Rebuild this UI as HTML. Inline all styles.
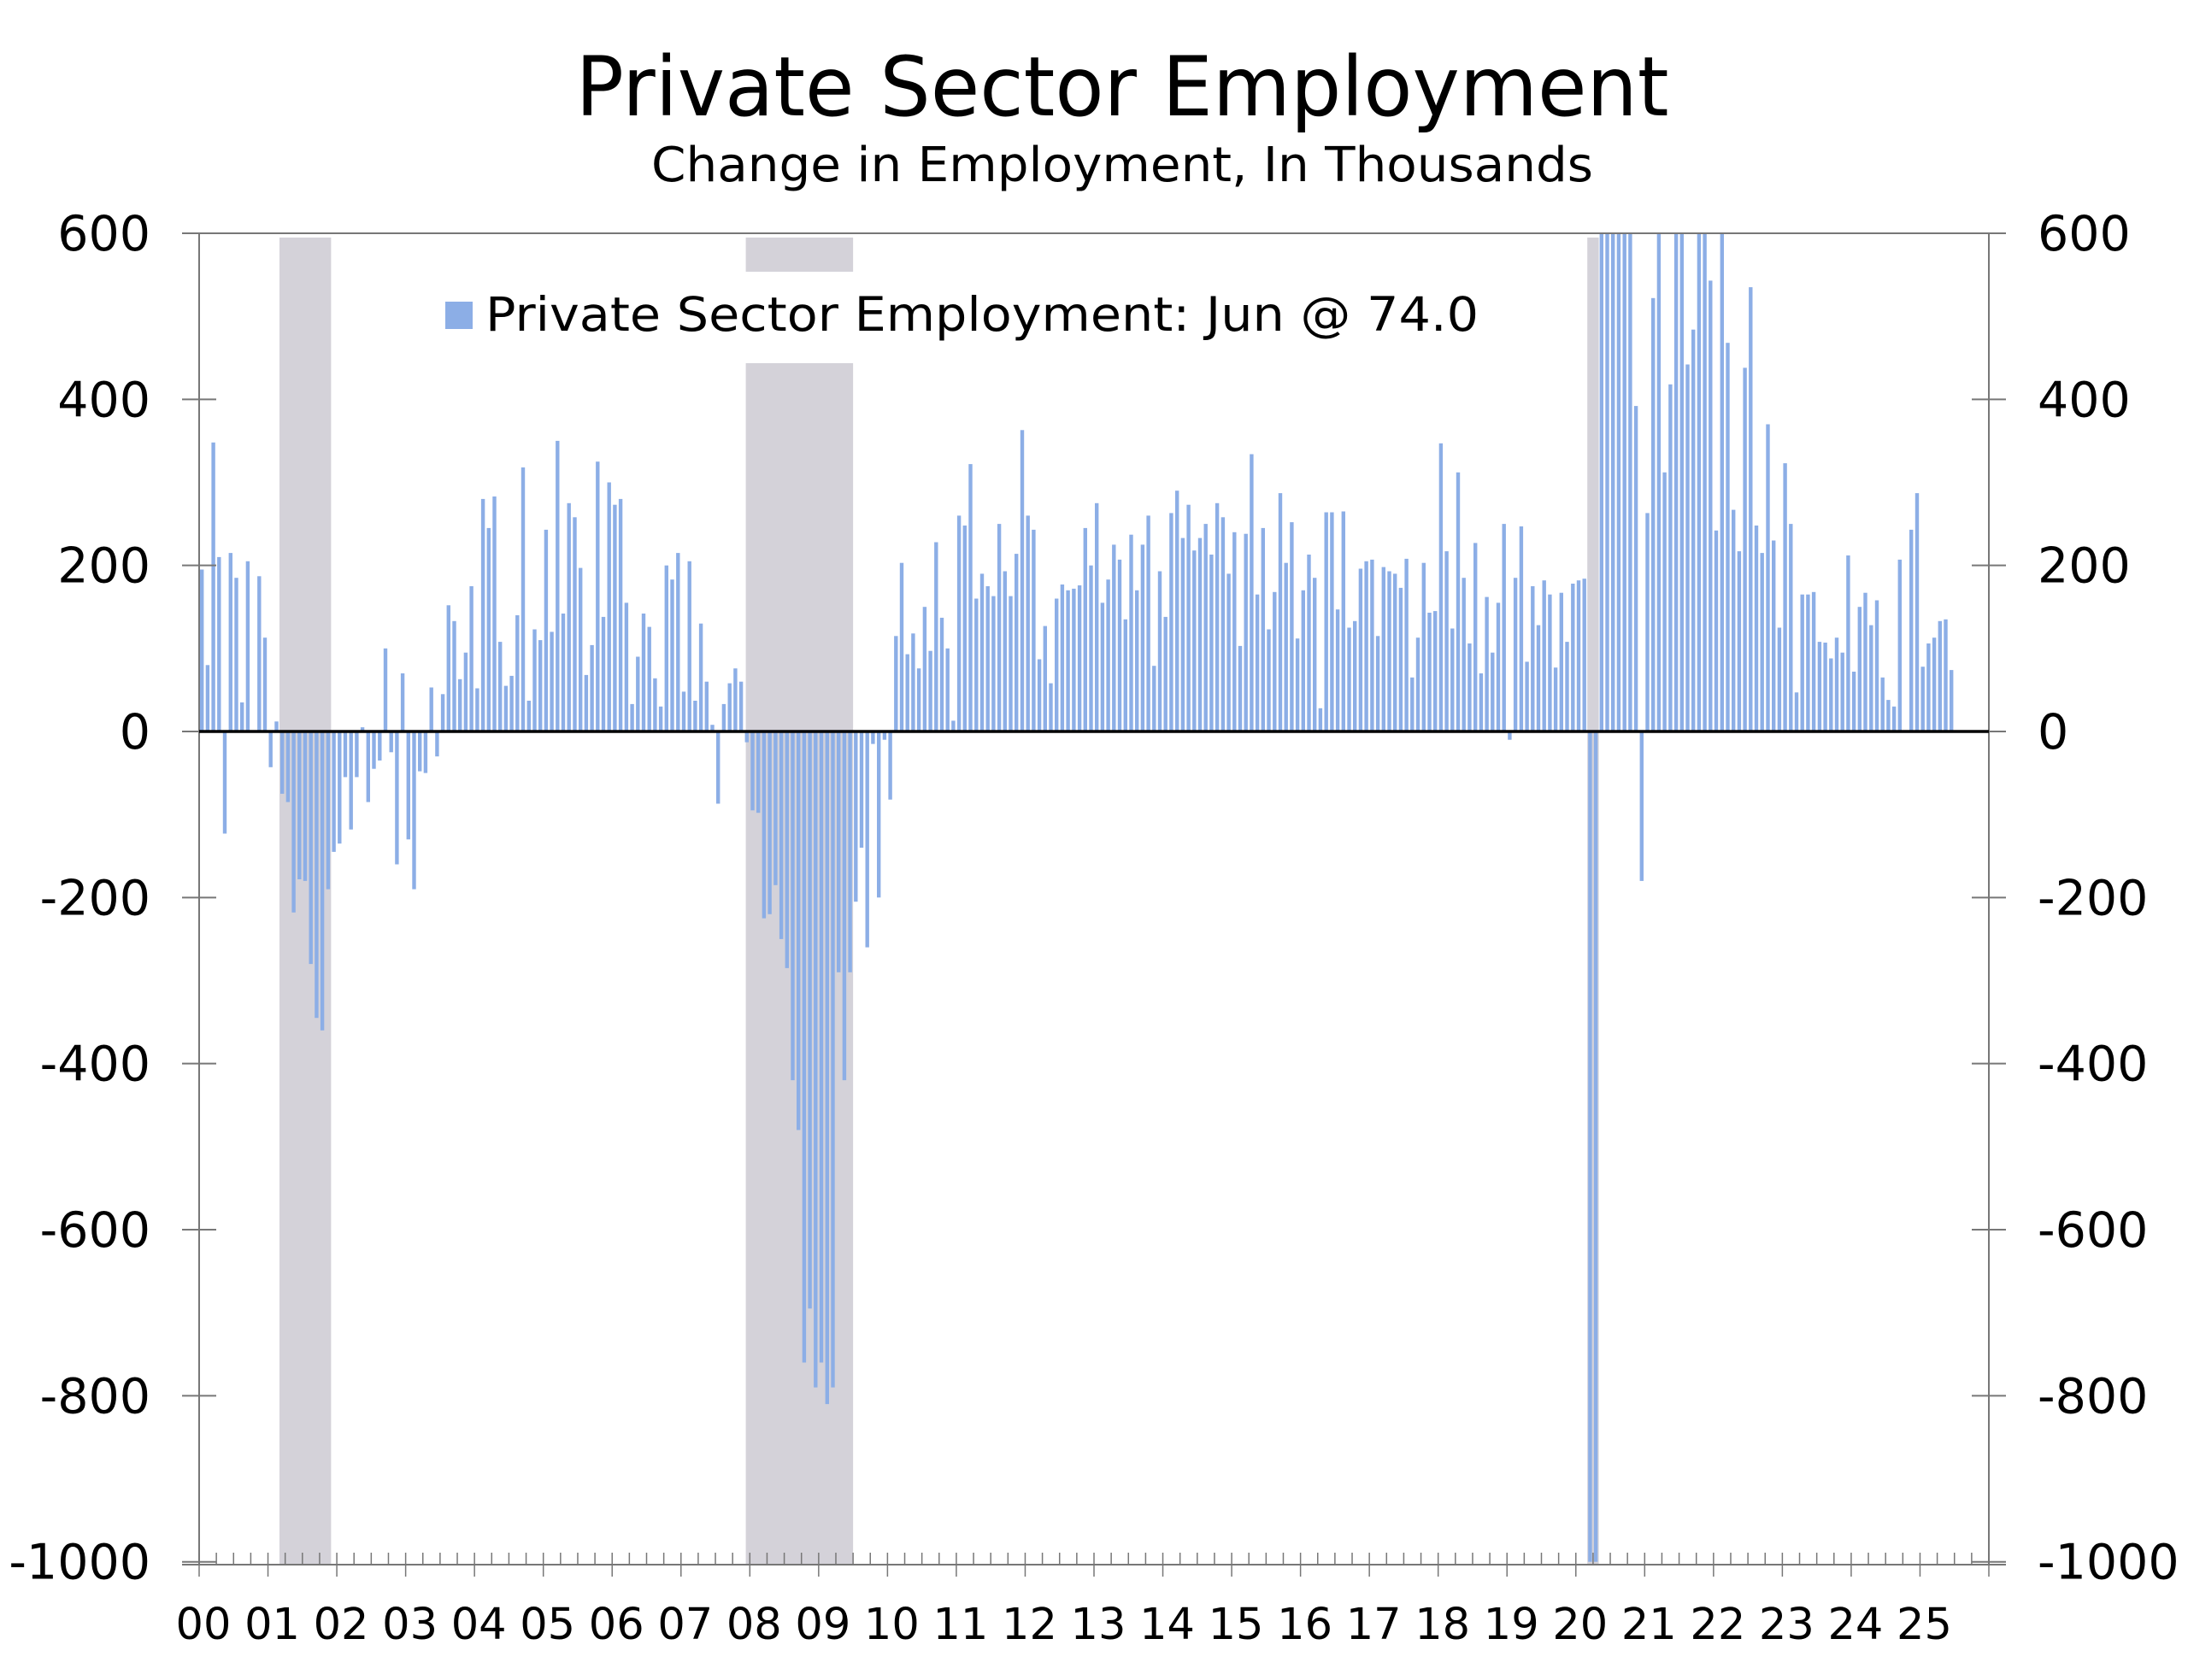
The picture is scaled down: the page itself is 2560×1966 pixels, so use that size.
<!DOCTYPE html>
<html><head><meta charset="utf-8"><style>html,body{margin:0;padding:0;background:#fff}svg{display:block}</style></head>
<body>
<svg id="c" width="2560" height="1966" xmlns="http://www.w3.org/2000/svg" font-family="'DejaVu Sans','Liberation Sans',sans-serif">
<rect width="2560" height="1966" fill="#fff"/>
<text x="1313" y="135" font-size="96" text-anchor="middle" textLength="1279" lengthAdjust="spacingAndGlyphs">Private Sector Employment</text>
<text x="1313" y="212" font-size="56" text-anchor="middle" textLength="1102" lengthAdjust="spacingAndGlyphs">Change in Employment, In Thousands</text>
<g id="g"></g>
</svg>
<script>
const data=[195,80,348,210,-123,215,185,35,205,0,187,113,
-43,12,-75,-85,-218,-178,-180,-280,-345,-360,-190,-145,
-135,-55,-118,-55,5,-85,-45,-35,100,-25,-160,70,
-130,-190,-48,-50,53,-30,45,152,133,63,95,175,
52,280,245,283,108,55,67,140,318,37,123,110,
243,120,350,142,275,258,197,68,104,325,138,300,
273,280,155,33,90,142,126,64,30,200,183,215,
48,205,37,130,60,8,-87,33,58,76,60,-13,
-95,-98,-225,-220,-185,-250,-285,-420,-480,-760,-695,-790,
-760,-810,-790,-290,-420,-290,-205,-140,-260,-15,-200,-10,
-82,115,203,93,118,76,150,97,228,137,100,13,
260,248,322,160,190,175,163,250,193,163,214,363,
260,243,87,127,58,160,177,170,172,176,245,200,
275,155,183,225,207,135,237,170,225,260,79,193,
138,263,290,233,273,218,233,250,213,275,258,190,
240,103,238,334,165,245,123,168,287,203,252,112,
170,213,185,28,264,264,147,265,125,133,196,205,
207,115,198,193,190,173,208,65,113,203,143,145,
347,217,124,312,185,106,227,70,162,95,155,250,
-10,185,247,84,175,128,182,165,77,167,108,178,
182,184,-1400,-19000,3000,4500,1200,1000,800,700,392,-180,
263,522,700,312,418,700,700,442,484,700,700,543,
242,700,468,267,217,438,535,248,215,370,230,125,
323,250,47,165,165,168,108,107,88,113,95,212,
72,150,167,128,158,65,38,30,207,0,243,287,
78,106,113,133,135,74];
const L=233,R=2327,Y0=856,S=0.9717,BOT=1831,TOP=273;
const yr=(R-L)/26,mo=yr/12;
const y=v=>Y0-v*S;
let s='';
const xm=m=>L+m*mo;
s+=`<rect x="${xm(14)}" y="${y(600)+5}" width="${xm(23)-xm(14)}" height="${BOT-y(600)-5}" fill="#d4d2d9"/>`;
s+=`<rect x="${xm(95.3)}" y="${y(600)+5}" width="${xm(114)-xm(95.3)}" height="40" fill="#d4d2d9"/>`;
s+=`<rect x="${xm(95.3)}" y="425" width="${xm(114)-xm(95.3)}" height="${BOT-425}" fill="#d4d2d9"/>`;
s+=`<rect x="${xm(242)}" y="${y(600)+5}" width="${xm(244)-xm(242)}" height="${BOT-y(600)-5}" fill="#d4d2d9"/>`;
data.forEach((v,i)=>{let c=Math.max(-1000,Math.min(600,v));let x=xm(i)+1;let a=y(Math.max(c,0)),b=y(Math.min(c,0));
s+=`<rect x="${x.toFixed(1)}" y="${a.toFixed(1)}" width="4.4" height="${(b-a).toFixed(1)}" fill="#8caee6"/>`;});
s+=`<line x1="${L}" y1="${TOP}" x2="${L}" y2="${BOT}" stroke="#777" stroke-width="2"/>`;
s+=`<line x1="${R}" y1="${TOP}" x2="${R}" y2="${BOT}" stroke="#777" stroke-width="2"/>`;
s+=`<line x1="213" y1="${TOP}" x2="${R+20}" y2="${TOP}" stroke="#777" stroke-width="2"/>`;
s+=`<line x1="213" y1="${BOT}" x2="${R+20}" y2="${BOT}" stroke="#777" stroke-width="2"/>`;
for(let v=-1000;v<=600;v+=200){let yy=y(v);
s+=`<line x1="213" y1="${yy}" x2="253" y2="${yy}" stroke="#777" stroke-width="2"/><line x1="${R-20}" y1="${yy}" x2="${R+20}" y2="${yy}" stroke="#777" stroke-width="2"/>`;
s+=`<text x="176" y="${yy+20}" font-size="57" text-anchor="end">${v}</text><text x="2384" y="${yy+20}" font-size="57">${v}</text>`;}
s+=`<line x1="${L}" y1="${Y0}" x2="${R}" y2="${Y0}" stroke="#000" stroke-width="3.5"/>`;
for(let q=0;q<=104;q++){let x=L+q*yr/4;
if(q%4==0){s+=`<line x1="${x}" y1="${BOT-14}" x2="${x}" y2="${BOT+14}" stroke="#777" stroke-width="1.5"/>`;}
else s+=`<line x1="${x}" y1="${BOT-14}" x2="${x}" y2="${BOT}" stroke="#777" stroke-width="1.5"/>`;}
for(let k=0;k<=25;k++){s+=`<text x="${L+k*yr+5}" y="1918" font-size="51" text-anchor="middle">${String(k).padStart(2,'0')}</text>`;}
s+=`<rect x="521" y="353" width="32" height="32" fill="#8caee6"/>`;
s+=`<text x="568" y="387" font-size="55" textLength="1162" lengthAdjust="spacingAndGlyphs">Private Sector Employment: Jun @ 74.0</text>`;
document.getElementById('g').innerHTML=s;
</script>
</body></html>
